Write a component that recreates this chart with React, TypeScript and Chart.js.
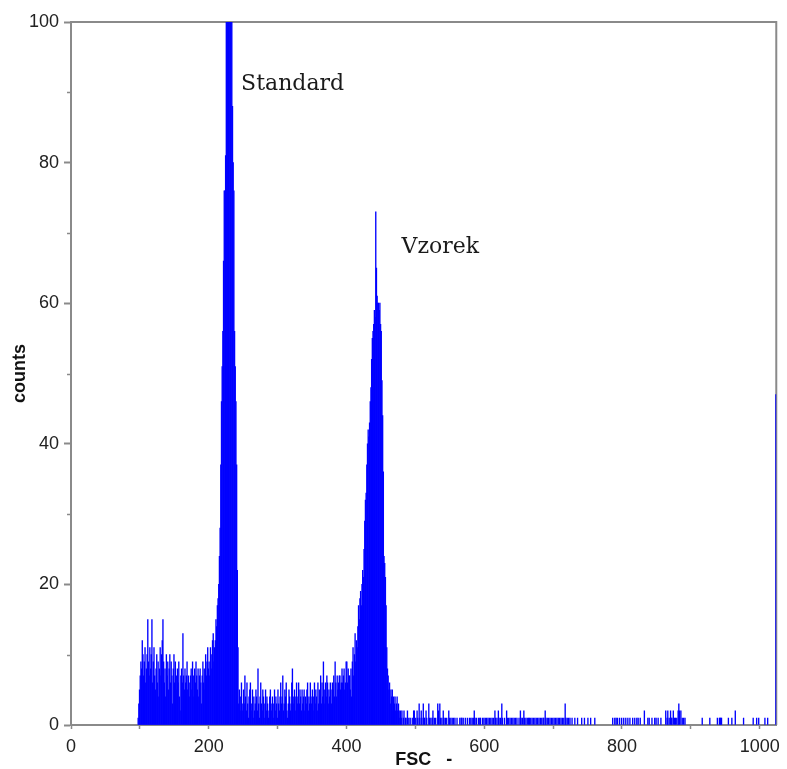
import { useEffect, useRef } from 'react';
import { Chart, registerables } from 'chart.js';

Chart.register(...registerables);

// Histogram: FSC channel -> counts
const denseStart = 96; // first channel of the dense block
const denseCounts = [
  0, 1, 3, 5,
  7, 9, 8, 12, 10, 7, 9, 11, 6, 8,
  10, 15, 9, 7, 11, 8, 10, 15, 6, 9,
  11, 7, 5, 8, 10, 6, 9, 4, 8, 11,
  7, 10, 12, 15, 9, 6, 8, 4, 10, 7,
  9, 5, 8, 10, 6, 9, 7, 3, 8, 10,
  6, 9, 5, 7, 8, 6, 9, 4, 2, 7,
  8, 6, 13, 7, 5, 8, 6, 7, 9, 5,
  7, 6, 4, 7, 8, 5, 9, 7, 4, 8,
  6, 9, 7, 5, 8, 4, 7, 8, 6, 3,
  7, 9, 6, 8, 5, 10, 7, 9, 11, 8,
  9, 7, 11, 8, 10, 12, 13, 9, 11, 12,
  15, 14, 17, 18, 20, 24, 28, 37, 46, 51,
  56, 66, 76, 76, 81, 108, 125, 140, 135, 128,
  118, 112, 106, 102, 88, 80, 76, 56, 51, 46,
  37, 22, 11, 3, 5, 2, 4, 6, 3, 2,
  5, 3, 7, 4, 2, 6, 3, 1, 4, 5,
  6, 2, 3, 5, 1, 4, 2, 3, 5, 4,
  2, 8, 3, 1, 4, 6, 3, 2, 5, 4,
  1, 3, 5, 2, 4, 3, 1, 2, 4, 5,
  3, 2, 4, 1, 3, 5, 2, 4, 3, 1,
  5, 3, 2, 4, 6, 3, 4, 7, 2, 3,
  5, 4, 6, 2, 1, 3, 5, 4, 2, 3,
  6, 8, 3, 4, 5, 2, 4, 6, 3, 4,
  6, 3, 5, 4, 2, 5, 3, 4, 5, 2,
  4, 3, 5, 6, 2, 4, 3, 6, 4, 3,
  5, 2, 4, 6, 3, 5, 4, 2, 6, 3,
  5, 4, 7, 3, 6, 4, 9, 3, 5, 6,
  4, 7, 6, 3, 5, 4, 6, 5, 3, 6,
  5, 7, 4, 9, 6, 4, 7, 5, 6, 7,
  7, 5, 6, 8, 6, 7, 8, 5, 6, 9,
  9, 6, 8, 7, 7, 5, 8, 4, 9, 11,
  7, 10, 13, 9, 12, 11, 14, 17, 15, 18,
  19, 17, 20, 22, 21, 25, 29, 32, 33, 37,
  40, 42, 41, 43, 46, 48, 52, 55, 56, 57,
  59, 58, 73, 65, 61, 60, 60, 59, 60, 57,
  56, 49, 44, 36, 24, 23, 21, 17, 11, 8,
  7, 5, 6, 3, 5, 4, 5, 2, 4, 3,
];

const tailChannels = [
  470, 471, 472, 473, 474, 475, 476, 477, 478, 479, 480, 482, 483, 485, 486, 488, 490, 492, 495, 497,
  498, 500, 502, 503, 505, 506, 508, 509, 511, 512, 513, 515, 516, 519, 520, 522, 524, 525, 527, 529,
  532, 533, 535, 536, 538, 540, 541, 543, 545, 548, 549, 551, 553, 555, 557, 560, 564, 566, 567, 569,
  572, 575, 578, 580, 582, 584, 585, 586, 588, 591, 593, 594, 597, 599, 601, 603, 605, 607, 609, 611,
  613, 615, 616, 618, 620, 621, 623, 625, 626, 629, 632, 633, 635, 637, 639, 641, 643, 645, 647, 650,
  652, 653, 655, 657, 658, 660, 662, 664, 665, 667, 669, 671, 673, 675, 677, 679, 681, 683, 685, 686,
  688, 689, 691, 693, 695, 697, 699, 701, 703, 705, 707, 709, 711, 713, 715, 717, 718, 720, 722, 724,
  727, 731, 735, 741, 745, 750, 754, 760, 786, 789, 791, 793, 796, 799, 802, 805, 808, 811, 815, 818,
  821, 823, 826, 832, 837, 839, 843, 847, 849, 852, 856, 863, 865, 866, 868, 870, 871, 872, 874, 876,
  877, 879, 881, 882, 883, 885, 887, 889, 891, 916, 927, 938, 941, 942, 943, 944, 954, 959, 964, 976,
  990, 995, 998, 1007, 1011, 1023,
];
const tailCounts = [
  4, 2, 3, 4, 2, 3, 2, 1, 2, 1, 2, 1, 2, 1, 1, 2, 1, 1, 1, 2,
  2, 1, 2, 1, 3, 1, 2, 1, 3, 1, 1, 2, 1, 3, 1, 1, 1, 2, 1, 1,
  3, 2, 3, 1, 1, 2, 1, 1, 1, 2, 1, 1, 1, 1, 1, 1, 1, 1, 1, 1,
  1, 1, 1, 1, 1, 1, 2, 1, 1, 1, 1, 1, 1, 1, 1, 1, 1, 1, 1, 1,
  1, 2, 1, 1, 2, 1, 1, 3, 1, 1, 2, 1, 1, 1, 1, 1, 1, 1, 1, 1,
  2, 1, 1, 2, 1, 1, 1, 1, 1, 1, 1, 1, 1, 1, 1, 1, 1, 1, 1, 1,
  2, 1, 1, 1, 1, 1, 1, 1, 1, 1, 1, 1, 1, 1, 1, 3, 1, 1, 1, 1,
  1, 1, 1, 1, 1, 1, 1, 1, 1, 1, 1, 1, 1, 1, 1, 1, 1, 1, 1, 1,
  1, 1, 1, 2, 1, 1, 1, 1, 1, 1, 1, 2, 1, 2, 1, 2, 1, 1, 2, 1,
  1, 1, 2, 3, 2, 2, 1, 1, 1, 1, 1, 1, 1, 1, 1, 1, 1, 1, 2, 1,
  1, 1, 1, 1, 1, 47,
];

const xTitle = 'FSC   -';
const yTitle = 'counts';
const peakNames = ['Standard', 'Vzorek'];

const AXIS_GRAY = '#8a8a8a';
const TICK_FONT = { family: '"Liberation Sans", Arial, sans-serif', size: 18 };
const TITLE_FONT = { family: '"Liberation Sans", Arial, sans-serif', size: 18, weight: 'bold' as const, lineHeight: 1 };

const framePlugin = {
  id: 'frame',
  beforeDatasetsDraw(chart: any) {
    const { ctx, chartArea } = chart;
    ctx.save();
    ctx.strokeStyle = AXIS_GRAY;
    ctx.lineWidth = 2;
    ctx.beginPath();
    ctx.moveTo(chartArea.left, chartArea.top);
    ctx.lineTo(chartArea.right, chartArea.top);
    ctx.lineTo(chartArea.right, chartArea.bottom);
    ctx.stroke();
    // minor y ticks (shorter)
    const y = chart.scales.y;
    ctx.lineWidth = 1.5;
    y.ticks.forEach((t: any) => {
      if (t.value % 20 !== 0) {
        const py = Math.round(y.getPixelForValue(t.value)) + 0.5;
        ctx.beginPath();
        ctx.moveTo(chartArea.left - 4, py);
        ctx.lineTo(chartArea.left, py);
        ctx.stroke();
      }
    });
    ctx.restore();
  },
};

const peakLabelPlugin = {
  id: 'peakLabels',
  afterDatasetsDraw(chart: any, _args: any, opts: any) {
    const { ctx } = chart;
    const xs = chart.scales.x;
    const ys = chart.scales.y;
    ctx.save();
    ctx.font = '22px "DejaVu Serif", serif';
    ctx.fillStyle = '#1a1a1a';
    ctx.textAlign = 'left';
    ctx.textBaseline = 'alphabetic';
    (opts.items || []).forEach((it: any) => {
      ctx.fillText(it.text, xs.getPixelForValue(it.x), ys.getPixelForValue(it.y));
    });
    ctx.restore();
  },
};

export default function App() {
  const ref = useRef<HTMLCanvasElement>(null);
  useEffect(() => {
    document.body.style.margin = '0';
    const points: { x: number; y: number }[] = [];
    denseCounts.forEach((c, i) => {
      if (c > 0) points.push({ x: denseStart + i + 0.5, y: c });
    });
    tailChannels.forEach((ch, i) => points.push({ x: ch + 0.5, y: tailCounts[i] }));

    const chart = new Chart(ref.current as HTMLCanvasElement, {
      type: 'bar',
      data: {
        datasets: [
          {
            data: points as any,
            backgroundColor: '#0000ff',
            borderWidth: 0,
            barPercentage: 1,
            categoryPercentage: 1,
          },
        ],
      },
      options: {
        animation: false,
        responsive: false,
        devicePixelRatio: 1,
        layout: { padding: { top: 22, right: 10, left: 0, bottom: 0 } },
        plugins: {
          legend: { display: false },
          tooltip: { enabled: false },
          peakLabels: {
            items: [
              { text: peakNames[0], x: 247, y: 90.3 },
              { text: peakNames[1], x: 480, y: 67.1 },
            ],
          },
        } as any,
        scales: {
          x: {
            type: 'linear',
            offset: false,
            min: 0,
            max: 1024,
            afterFit: (s: any) => {
              s.height = 44;
            },
            ticks: {
              stepSize: 100,
              includeBounds: false,
              autoSkip: false,
              maxRotation: 0,
              padding: 7,
              color: '#222',
              font: TICK_FONT,
              callback: (v: any) => (Number(v) % 200 === 0 ? String(v) : ''),
            },
            grid: { offset: false, drawOnChartArea: false, tickLength: 4, color: AXIS_GRAY, tickWidth: 1.5 },
            border: { color: AXIS_GRAY, width: 2 },
            title: { display: true, text: xTitle, color: '#111', font: TITLE_FONT, padding: { top: 0, bottom: 0 } },
          },
          y: {
            type: 'linear',
            min: 0,
            max: 100,
            afterFit: (s: any) => {
              s.width = 71;
            },
            ticks: {
              stepSize: 10,
              includeBounds: false,
              autoSkip: false,
              padding: 5,
              color: '#222',
              font: TICK_FONT,
              callback: (v: any) => (Number(v) % 20 === 0 ? String(v) : ''),
            },
            grid: {
              drawOnChartArea: false,
              tickLength: 7,
              tickWidth: 2,
              tickColor: (c: any) => (c.tick && c.tick.value % 20 === 0 ? AXIS_GRAY : 'rgba(0,0,0,0)'),
            },
            border: { color: AXIS_GRAY, width: 2 },
            title: { display: true, text: yTitle, color: '#111', font: TITLE_FONT, padding: { top: 11, bottom: 0 } },
          },
        },
      },
      plugins: [framePlugin, peakLabelPlugin],
    });
    return () => chart.destroy();
  }, []);
  return <canvas ref={ref} width={787} height={769} style={{ display: 'block' }} />;
}
